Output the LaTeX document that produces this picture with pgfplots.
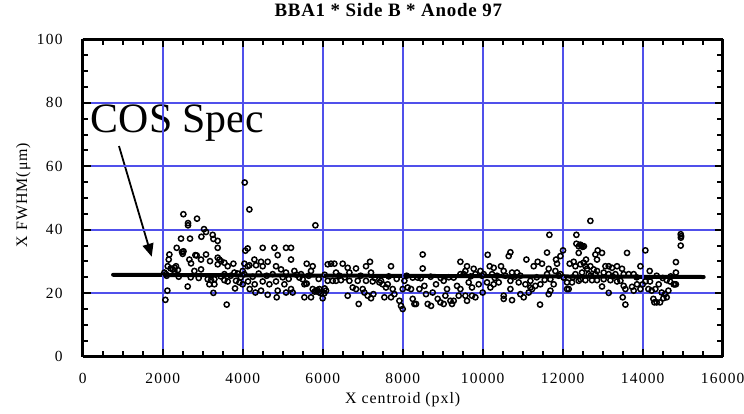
\documentclass[border=0pt]{standalone}
\usepackage{fontspec}
\setmainfont{Liberation Serif}
\newfontfamily\tickfont{Liberation Serif}[LetterSpace=8]
\newfontfamily\titlefont{Liberation Serif}[LetterSpace=4]
\newfontfamily\labelfont{Liberation Serif}[LetterSpace=6]
\usepackage{pgfplots}
\usepackage{pgfplotstable}
\pgfplotsset{compat=1.18}
\usetikzlibrary{arrows.meta}
\definecolor{gridblue}{RGB}{80,80,235}

% X FWHM per centroid position
\pgfplotstableread{
x y
2042 26.5
2083 26.0
2067 17.9
2100 25.5
2117 20.8
2125 28.5
2150 30.6
2167 32.2
2200 27.8
2250 27.5
2292 27.0
2300 28.0
2333 28.5
2350 34.3
2380 27.3
2400 25.2
2458 37.2
2483 33.0
2500 32.4
2517 44.9
2520 33.2
2625 22.1
2633 42.1
2633 41.4
2667 30.6
2683 37.2
2700 25.0
2708 29.4
2792 27.0
2817 32.0
2850 31.9
2858 43.5
2900 24.8
2958 30.6
2958 27.5
2967 37.8
3033 40.2
3083 39.3
3083 32.2
3125 24.4
3167 22.8
3183 30.1
3208 24.1
3250 38.4
3267 37.1
3267 20.1
3292 24.4
3292 22.8
3375 36.5
3375 34.3
3375 31.2
3375 29.1
3417 30.6
3450 25.3
3458 30.1
3542 29.6
3542 26.0
3542 24.1
3600 16.4
3625 28.5
3625 23.7
3700 25.5
3767 29.3
3792 26.5
3808 21.5
3833 23.9
3875 26.2
3917 23.4
3950 25.0
4000 27.0
4000 22.8
4042 26.0
4042 29.3
4050 54.9
4067 33.4
4125 34.1
4125 28.5
4133 23.7
4167 46.4
4167 28.8
4175 21.3
4250 25.2
4292 30.6
4300 22.8
4317 20.2
4333 28.8
4400 26.2
4458 29.9
4458 20.8
4500 34.3
4500 28.5
4500 23.7
4600 25.5
4625 29.9
4625 19.5
4667 22.8
4750 26.0
4792 34.3
4833 28.5
4833 23.7
4850 18.7
4875 32.0
4875 20.8
4958 27.5
5000 25.0
5042 22.8
5083 34.3
5083 26.5
5083 20.2
5150 24.5
5208 34.3
5208 30.6
5208 21.3
5250 20.2
5292 27.0
5350 25.8
5417 24.9
5458 26.0
5500 24.4
5542 22.8
5542 18.7
5583 23.0
5600 29.3
5600 23.0
5650 25.5
5708 27.0
5708 18.7
5750 28.5
5750 21.3
5800 20.5
5817 41.4
5833 20.8
5870 21.0
5900 20.3
5900 24.5
5917 21.3
5958 19.9
6000 18.4
6040 20.0
6050 21.5
6050 25.8
6083 20.8
6125 29.1
6125 23.9
6208 29.3
6250 23.9
6292 29.3
6333 26.5
6333 23.9
6417 25.5
6458 24.1
6500 29.3
6550 25.0
6625 28.0
6625 19.2
6667 26.5
6667 23.9
6750 21.8
6833 27.8
6833 21.3
6875 23.9
6900 16.6
6950 25.5
7000 21.3
7042 20.2
7083 28.5
7083 23.9
7125 19.2
7183 29.9
7208 26.5
7208 18.4
7250 23.7
7267 19.7
7300 24.8
7417 23.4
7458 23.9
7500 22.8
7542 18.7
7583 21.8
7625 22.8
7650 25.3
7708 28.5
7708 18.7
7750 21.3
7792 19.7
7850 24.5
7917 17.6
7958 16.0
8000 15.0
8000 21.3
8042 23.9
8100 25.5
8125 21.8
8208 21.3
8250 24.9
8250 18.2
8292 16.6
8333 16.6
8375 24.9
8417 21.3
8450 24.7
8500 32.2
8500 27.8
8542 22.3
8583 19.7
8625 16.6
8700 25.2
8708 16.0
8750 20.2
8833 22.8
8875 18.2
8942 17.1
8950 24.8
9025 23.9
9025 16.6
9067 19.2
9108 21.3
9150 25.0
9192 17.6
9233 16.6
9275 24.9
9275 17.6
9358 22.3
9400 19.2
9442 29.9
9442 26.0
9442 21.3
9525 26.0
9567 27.0
9567 19.2
9608 28.5
9608 17.6
9650 23.4
9700 25.3
9733 21.8
9733 19.2
9775 27.7
9817 26.0
9817 18.7
9900 22.8
9942 27.0
9983 25.5
10000 20.2
10025 26.0
10108 23.4
10125 32.1
10175 28.5
10192 21.8
10233 26.0
10275 28.0
10275 22.8
10300 24.8
10358 25.5
10400 23.4
10458 28.5
10525 27.0
10525 19.2
10525 18.2
10567 25.5
10650 31.7
10692 32.9
10692 23.9
10692 21.3
10733 26.5
10733 17.8
10800 25.2
10858 26.5
10900 23.4
10942 25.5
10942 19.7
11025 18.7
11067 22.8
11092 30.6
11150 20.2
11192 23.9
11192 21.8
11233 21.3
11275 28.5
11317 22.3
11350 25.0
11375 29.9
11433 16.4
11442 22.8
11483 29.3
11550 24.2
11608 32.8
11608 26.0
11650 27.7
11650 19.7
11667 38.4
11692 24.4
11692 20.8
11775 22.8
11817 27.0
11833 30.6
11858 29.3
11900 25.5
11942 31.7
11942 26.0
12008 33.5
12025 24.9
12108 23.4
12108 21.3
12150 21.3
12175 29.3
12233 23.4
12250 25.0
12275 29.9
12317 28.5
12317 26.0
12342 38.4
12342 35.6
12400 34.8
12400 23.9
12400 32.7
12440 35.3
12470 35.0
12500 34.6
12530 34.8
12442 29.1
12442 24.4
12483 26.5
12525 29.6
12567 28.5
12567 24.1
12583 30.6
12608 27.7
12650 26.0
12692 42.8
12692 28.5
12700 25.5
12733 24.1
12775 27.5
12817 32.2
12817 26.0
12858 30.6
12858 27.0
12858 24.1
12875 33.5
12983 32.7
12983 22.1
13025 26.5
13025 24.4
13067 28.5
13150 28.5
13150 26.0
13150 20.1
13192 24.1
13233 28.0
13250 25.3
13317 26.0
13358 28.5
13358 23.7
13442 23.9
13483 27.7
13500 18.7
13525 26.0
13525 22.3
13567 21.3
13567 16.4
13608 32.7
13650 26.0
13733 22.0
13775 26.0
13775 20.8
13850 25.0
13858 22.8
13942 28.5
13942 21.3
14000 22.8
14067 33.5
14067 23.7
14142 21.3
14175 27.0
14183 23.7
14225 20.8
14267 18.2
14292 17.1
14317 21.3
14350 17.1
14350 25.5
14400 22.8
14433 17.1
14475 20.2
14500 24.8
14517 18.4
14558 19.7
14600 24.1
14600 18.7
14642 20.8
14683 23.7
14700 25.3
14775 22.8
14830 29.8
14830 26.5
14800 22.8
14830 22.8
14950 38.6
14960 38.0
14955 37.5
14950 35.0
}\fwhm

\begin{document}
\begin{tikzpicture}
\useasboundingbox (-82.7bp,-57.4bp) rectangle (661.3bp,356.6bp);
\begin{axis}[
  at={(0,0)}, anchor=south west,
  scale only axis, width=640bp, height=317.1bp,
  xmin=0, xmax=16000, ymin=0, ymax=100,
  scaled x ticks=false,
  xtick={0,2000,...,16000}, ytick={0,20,...,100},
  minor xtick={500,1000,...,15500}, minor ytick={5,10,...,95},
  tick align=inside,
  major tick length=8bp, minor tick length=5.5bp,
  axis on top,
  separate axis lines,
  every outer x axis line/.append style={black, line width=2.8bp},
  every outer y axis line/.append style={black, line width=2.8bp},
  xtick style={black, line width=2bp},
  ytick style={black, line width=2bp},
  xmajorgrids, ymajorgrids,
  major grid style={draw=gridblue, line width=2bp, solid},
  /pgf/number format/assume math mode=true,
  /pgf/number format/1000 sep={},
  ticklabel style={font=\tickfont\fontsize{15.5}{18}\selectfont},
  xticklabel style={anchor=base, yshift=-26.4bp},
  yticklabel style={anchor=east, inner sep=0pt, xshift=-20bp},
  title={BBA1 * Side B * Anode 97},
  title style={at={(axis description cs:0.4775,1)}, anchor=base, yshift=16.8bp,
    inner sep=0pt, font=\titlefont\bfseries\fontsize{19}{22}\selectfont},
  xlabel={X centroid (pxl)},
  xlabel style={at={(axis description cs:0.5,0)}, anchor=base, yshift=-46.6bp,
    inner sep=0pt, font=\labelfont\fontsize{16}{19}\selectfont},
  ylabel={X FWHM(μm)},
  ylabel style={at={(axis description cs:-0.087,0.51)}, anchor=base,
    inner sep=0pt, font=\labelfont\fontsize{16}{19}\selectfont},
  clip=false,
]
\addplot[only marks, mark=o, mark size=2.6bp, mark options={line width=1.5bp, black}]
  table {\fwhm};
\addplot[black, line width=4bp, line cap=round] coordinates {(760,25.8) (15525,25.1)};
\addplot[black, line width=1.8bp, -{Triangle[length=13bp,width=11bp]}]
  coordinates {(907,66.4) (1725,31.5)};
\node[anchor=base west, inner sep=0pt, font=\fontsize{42}{48}\selectfont]
  at (axis cs:200,70.6) {COS Spec};
\end{axis}
\end{tikzpicture}
\end{document}
